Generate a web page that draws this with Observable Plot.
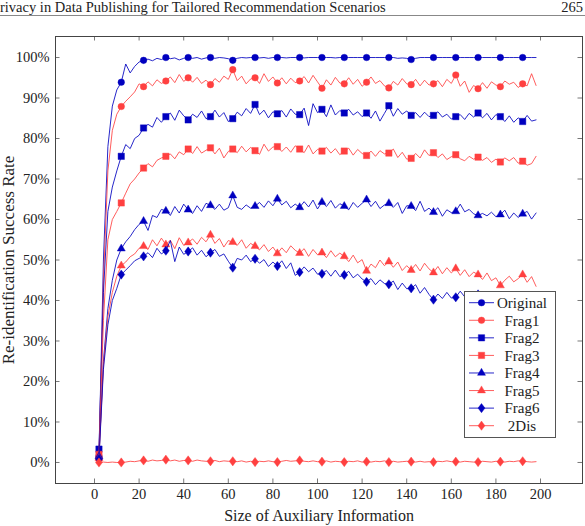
<!DOCTYPE html>
<html><head><meta charset="utf-8">
<script src="https://cdn.jsdelivr.net/npm/d3@7"></script>
<script src="https://cdn.jsdelivr.net/npm/@observablehq/plot@0.6"></script>
<style>
body{margin:0;background:#fff;}
#wrap{position:relative;width:585px;height:526px;overflow:hidden;font-family:"Liberation Serif",serif;color:#222;}
#wrap svg{position:absolute;left:0;top:0;}
#hdr{position:absolute;left:0;top:0;width:585px;height:15px;border-bottom:1.4px solid #888;}
#ht{position:absolute;left:0;top:0px;font-size:14.5px;line-height:15px;white-space:nowrap;}
#pg{position:absolute;right:2px;top:0px;font-size:14.5px;line-height:15px;}
</style></head><body>
<div id="wrap">
<div id="hdr"><span id="ht">rivacy in Data Publishing for Tailored Recommendation Scenarios</span><span id="pg">265</span></div>
</div>
<script>
const sizes = [2,4,6,8,10,12,14,16,18,20,22,24,26,28,30,32,34,36,38,40,42,44,46,48,50,52,54,56,58,60,62,64,66,68,70,72,74,76,78,80,82,84,86,88,90,92,94,96,98,100,102,104,106,108,110,112,114,116,118,120,122,124,126,128,130,132,134,136,138,140,142,144,146,148,150,152,154,156,158,160,162,164,166,168,170,172,174,176,178,180,182,184,186,188,190,192,194,196,198];

const original = [1.5,50,78,88,92, 93.9,98.4,96.2,97.8,98.9, 99.3,99.6,99.2,99.8,99.5, 100,99.7,99.9,99.4,99.8, 100,99.8,100,99.6,99.9, 100,99.8,100,99.9,99.7, 99.3,99.8,100,99.9,100, 100,99.9,100,99.8,100, 100,100,99.9,100,100, 100,99.9,100,100,100, 100,100,100,99.9,100, 100,100,100,100,100, 100,100,100,100,100, 100,100,99.8,99.9,99.8, 99.5,99.8,100,100,100, 100,100,100,100,100, 100,100,100,100,100, 100,100,100,100,100, 100,100,100,100,100, 100,100,100,100];
const frag1 = [1,45,72,82,86, 87.9,89.2,90.3,91.5,93.5, 92.8,94.0,93.0,94.5,93.6, 94.2,95.2,93.8,95.8,94.1, 95.0,93.9,95.1,93.6,94.4, 93.3,94.8,93.9,95.4,94.6, 97.0,94.3,95.4,93.5,94.7, 95.0,93.6,96.0,94.1,95.2, 93.7,95.0,93.5,94.9,93.8, 94.2,95.3,93.7,95.6,94.0, 92.4,94.5,93.2,95.1,93.7, 93.5,95.0,93.4,94.6,92.9, 93.9,95.2,93.6,94.3,93.0, 92.5,94.1,93.2,94.8,93.5, 93.3,94.6,93.0,94.4,93.2, 93.5,94.3,92.8,94.6,93.6, 95.7,92.9,94.2,91.4,93.1, 92.3,93.8,92.4,94.0,93.2, 92.8,94.2,93.4,93.9,92.6, 93.5,93.0,96.0,93.1];
const frag2 = [3.3,42,62,68,72, 75.6,78.5,77.5,80.0,80.8, 82.6,83.5,82.8,85.2,84.0, 85.4,86.3,84.5,87.0,85.6, 84.6,86.0,85.2,86.8,84.9, 85.4,87.0,85.3,86.4,84.2, 84.9,86.5,85.6,87.4,86.2, 88.4,85.9,87.0,85.1,86.6, 86.1,86.9,85.3,87.3,86.0, 85.9,87.5,83.2,88.6,86.4, 87.2,85.4,88.3,85.8,86.9, 86.3,87.2,85.8,86.6,85.4, 86.3,85.0,86.8,84.3,86.2, 88.1,85.5,87.4,86.0,86.8, 85.7,86.4,85.2,86.5,85.4, 85.7,86.6,85.3,86.0,84.8, 85.4,85.9,84.7,86.2,85.3, 86.3,85.1,86.2,84.6,85.9, 85.4,84.2,85.6,84.0,85.1, 84.2,85.7,84.3,84.6];
const frag3 = [2.0,35,55,60,62, 64.1,66.5,68.8,70.0,71.5, 72.7,73.8,73.0,74.6,75.2, 75.6,76.2,75.0,76.7,76.0, 77.4,76.3,78.0,76.4,77.1, 77.7,76.2,77.6,75.2,76.8, 77.4,76.5,78.1,76.7,77.8, 77.0,76.1,78.6,76.9,77.9, 78.0,76.8,77.9,76.6,78.2, 77.4,76.5,78.4,76.2,77.3, 76.9,77.8,76.4,77.5,76.0, 76.9,77.6,75.9,77.3,76.3, 75.8,76.9,75.6,77.0,76.2, 76.4,77.4,75.3,76.6,74.9, 75.1,76.3,75.2,77.2,75.8, 76.5,75.3,76.2,74.8,75.5, 76.0,75.0,74.5,75.6,74.9, 75.4,74.6,75.3,74.1,74.9, 74.2,75.2,74.5,75.3,73.9, 74.4,73.4,73.8,75.6];
const frag4 = [1.5,25,38,45,50, 52.8,54.5,55.8,57.5,58.8, 59.6,57.3,61.0,60.5,62.5, 62.1,61.0,63.2,61.6,63.8, 62.4,61.5,63.4,62.0,64.0, 63.5,62.5,63.8,62.3,62.9, 65.9,63.0,62.5,63.6,62.8, 63.3,64.2,63.0,64.6,63.4, 65.1,63.6,64.5,62.9,63.8, 63.0,64.4,63.1,64.8,62.6, 64.3,63.2,64.7,62.8,63.9, 63.3,62.4,64.2,63.0,64.0, 64.9,63.2,64.5,62.7,63.6, 64.0,63.0,64.2,61.5,63.4, 63.3,62.2,64.5,62.0,62.8, 61.8,62.9,60.8,62.4,61.7, 62.0,63.8,61.9,62.5,61.4, 61.0,61.5,60.9,61.8,60.7, 61.2,62.3,60.2,61.6,60.5, 61.4,62.0,60.1,61.6];
const frag5 = [1.0,24,36,42,46, 48.6,49.5,50.8,51.5,52.9, 53.4,52.6,55.0,53.5,55.4, 53.8,54.9,52.8,55.5,53.6, 54.3,55.2,53.9,55.6,54.5, 56.2,54.1,55.3,53.2,54.8, 54.4,53.6,55.0,52.9,54.1, 53.4,52.5,53.8,52.1,53.2, 51.6,53.0,51.8,53.5,52.4, 51.7,52.8,50.9,52.6,51.3, 51.8,50.6,52.3,50.8,51.7, 50.9,49.6,51.2,49.3,50.1, 47.3,49.0,48.1,50.0,48.6, 49.6,48.2,49.5,47.4,48.6, 47.5,48.9,47.3,49.2,47.8, 46.9,48.4,46.6,48.1,46.8, 47.9,46.2,47.6,45.9,47.0, 46.4,45.2,46.8,44.9,45.6, 43.7,45.0,46.0,44.6,45.4, 46.4,44.5,45.9,43.5];
const frag6 = [0.8,23,34,40,43, 46.4,47.5,48.6,49.8,50.4, 50.9,51.8,50.6,52.9,51.5, 52.3,54.8,49.6,53.2,51.4, 52.1,53.0,51.2,52.4,50.8, 51.8,52.6,50.9,51.5,49.7, 48.1,50.4,50.0,51.2,49.6, 50.3,49.2,50.1,48.4,49.5, 48.5,49.8,47.9,49.3,46.2, 47.0,48.3,47.1,48.0,46.5, 46.6,47.4,46.0,47.5,45.9, 46.3,47.2,45.6,46.5,45.3, 44.6,45.4,43.9,45.1,44.2, 44.0,44.8,42.7,44.3,42.9, 43.0,43.9,41.8,43.2,41.5, 40.2,41.6,40.5,42.0,40.6, 40.8,42.3,40.9,41.7,40.4, 41.5,40.3,41.2,39.9,40.8, 40.2,40.9,39.6,40.5,39.3, 39.6,40.4,39.2,40.0];
const twoDis = [0,0.1,0,0.1,0, 0,0.1,0.3,0.2,0.4, 0.5,0.3,0.6,0.4,0.5, 0.7,0.4,0.6,0.3,0.5, 0.5,0.3,0.6,0.4,0.3, 0.3,0.5,0.2,0.4,0.3, 0.3,0.2,0.4,0.1,0.3, 0.1,0.3,0.2,0.4,0.2, 0.1,0.3,0.5,0.3,0.4, 0.5,0.3,0.2,0.4,0.2, 0.2,0.4,0.1,0.3,0.2, 0.1,0.3,0.2,0.4,0.1, 0.2,0.1,0.3,0.2,0.4, 0.1,0.3,0.1,0.2,0.3, 0.2,0.1,0.3,0.1,0.2, 0.1,0.3,0.2,0.4,0.2, 0.2,0.1,0.3,0.2,0.1, 0.1,0.3,0.2,0.1,0.3, 0.2,0.1,0.3,0.2,0.4, 0.3,0.2,0.1,0.2];

const seriesNames = ["Original","Frag1","Frag2","Frag3","Frag4","Frag5","Frag6","2Dis"];
const seriesValues = [original, frag1, frag2, frag3, frag4, frag5, frag6, twoDis];
const xTicks = [0,20,40,60,80,100,120,140,160,180,200];
const yTicks = [0,10,20,30,40,50,60,70,80,90,100];

const BLUE = "#0000bf", RED = "#ff4040";
const diamond = {draw(ctx, size){ const h = Math.sqrt(size/1.5), w = 0.75*h; ctx.moveTo(0,-h); ctx.lineTo(w,0); ctx.lineTo(0,h); ctx.lineTo(-w,0); ctx.closePath(); }};
const styles = [
  {color: BLUE, symbol: "circle", r: 3.3, d3s: d3.symbolCircle},
  {color: RED, symbol: "circle", r: 3.3, d3s: d3.symbolCircle},
  {color: BLUE, symbol: "square", r: 3.6, d3s: d3.symbolSquare},
  {color: RED, symbol: "square", r: 3.6, d3s: d3.symbolSquare},
  {color: BLUE, symbol: "triangle", r: 3.0, d3s: d3.symbolTriangle},
  {color: RED, symbol: "triangle", r: 3.0, d3s: d3.symbolTriangle},
  {color: BLUE, symbol: diamond, r: 3.2, d3s: diamond},
  {color: RED, symbol: diamond, r: 3.2, d3s: diamond}
];

const series = seriesNames.map((name, k) => ({
  name, ...styles[k],
  rows: sizes.map((x, i) => ({x, y: seriesValues[k][i], i}))
}));

const W = 585, H = 526, MT = 36, MB = 43, ML = 55, MR = 3;
const FH = H - MT - MB, FW = W - ML - MR;
const TL = 4.5;

const marks = [
  Plot.axisX({ticks: xTicks, tickSize: 0, tickPadding: 5, tickFormat: d => String(d),
    label: "Size of Auxiliary Information", labelAnchor: "center", labelArrow: "none", labelOffset: 37}),
  Plot.axisY({ticks: yTicks, tickSize: 0, tickPadding: 6, tickFormat: d => d + "%",
    label: "Re-identification Success Rate", labelAnchor: "center", labelArrow: "none", labelOffset: 54}),
  Plot.tickX(xTicks, {x: d => d, insetTop: FH - TL, stroke: "#555", strokeWidth: 0.8}),
  Plot.tickX(xTicks, {x: d => d, insetBottom: FH - TL, stroke: "#555", strokeWidth: 0.8}),
  Plot.tickY(yTicks, {y: d => d, insetRight: FW - TL, stroke: "#555", strokeWidth: 0.8}),
  Plot.tickY(yTicks, {y: d => d, insetLeft: FW - TL, stroke: "#555", strokeWidth: 0.8})
];
for (const s of series) {
  marks.push(Plot.line(s.rows, {x: "x", y: "y", stroke: s.color, strokeWidth: 0.85}));
  marks.push(Plot.dot(s.rows.filter(d => d.i % 5 === 0), {x: "x", y: "y", symbol: s.symbol, r: s.r, fill: s.color, stroke: s.color, strokeWidth: 0.4}));
}
marks.push(Plot.frame({stroke: "#444", strokeWidth: 1}));

const chart = Plot.plot({
  width: W, height: H, marginTop: MT, marginBottom: MB, marginLeft: ML, marginRight: MR,
  style: {fontFamily: '"Liberation Serif", serif', fontSize: "14.5px", color: "#222", background: "transparent"},
  x: {domain: [-17.49, 218.83], label: "Size of Auxiliary Information"},
  y: {domain: [-5.19, 105.19], label: "Re-identification Success Rate"},
  marks
});
const xl = chart.querySelector('g[aria-label="x-axis label"]');
if (xl) xl.setAttribute("font-size", "16px");
const yl = chart.querySelector('g[aria-label="y-axis label"]');
if (yl) yl.setAttribute("font-size", "17px");
document.getElementById("wrap").appendChild(chart);

// legend
const lg = d3.select("#wrap").append("svg").attr("width", W).attr("height", H);
lg.append("rect").attr("x", 464.5).attr("y", 291.5).attr("width", 91).attr("height", 146)
  .attr("fill", "#fff").attr("stroke", "#555").attr("stroke-width", 1);
series.forEach((s, k) => {
  const yy = 302.7 + 17.57 * k;
  lg.append("line").attr("x1", 469).attr("x2", 494).attr("y1", yy).attr("y2", yy)
    .attr("stroke", s.color).attr("stroke-width", 0.85);
  lg.append("path").attr("d", d3.symbol(s.d3s, Math.PI * s.r * s.r)())
    .attr("transform", `translate(481.5,${yy})`).attr("fill", s.color).attr("stroke", s.color).attr("stroke-width", 0.4);
  lg.append("text").attr("x", 522).attr("y", yy).attr("dy", "0.35em").attr("text-anchor", "middle")
    .attr("font-family", '"Liberation Serif", serif').attr("font-size", "15px").attr("fill", "#222").text(s.name);
});
</script>
</body></html>
